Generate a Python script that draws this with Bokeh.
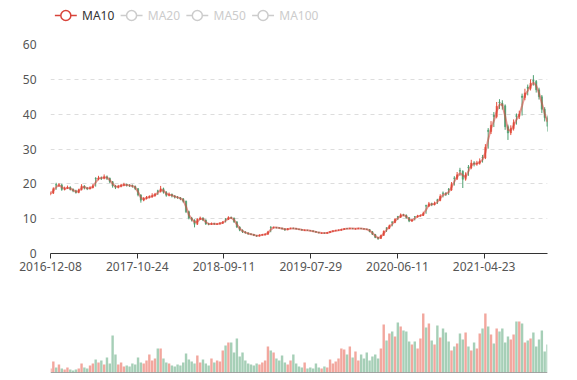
from bokeh.plotting import figure
from bokeh.layouts import column
from bokeh.models import Range1d, FixedTicker, Span, ColumnDataSource
from bokeh.core.properties import value
from bokeh.embed import file_html
from bokeh.resources import INLINE

# ---- data (one candle = 7 trading days) ----
DAYS_PER_CANDLE = 7

close = [
    17.3, 18.6, 19.6, 19.7, 18.4, 18.7, 19.0, 18.4, 18.0, 17.5,
    18.3, 19.4, 18.8, 18.6, 18.9, 19.4, 21.4, 21.7, 21.6, 22.0,
    21.6, 20.6, 19.4, 19.0, 19.3, 19.6, 19.8, 19.6, 19.5, 19.3,
    18.6, 16.8, 15.3, 15.8, 16.1, 16.3, 16.6, 17.0, 17.8, 18.6,
    17.6, 16.7, 17.0, 16.5, 16.2, 16.0, 15.7, 15.0, 12.0, 10.2,
    9.6, 8.4, 9.8, 10.2, 9.6, 8.5, 8.4, 8.6, 8.5, 8.5,
    8.7, 9.0, 9.8, 10.3, 10.2, 9.1, 7.6, 6.7, 6.2, 5.9,
    5.6, 5.5, 5.2, 5.0, 5.3, 5.4, 5.5, 6.2, 7.5, 7.5,
    7.4, 7.3, 7.1, 6.8, 7.1, 7.2, 7.2, 7.0, 6.9, 6.7,
    6.7, 6.6, 6.5, 6.3, 6.1, 5.9, 5.9, 5.8, 6.0, 6.3,
    6.5, 6.6, 6.7, 6.9, 7.1, 7.1, 7.2, 7.1, 7.1, 7.2,
    7.1, 7.0, 6.9, 6.3, 5.5, 4.6, 4.3, 5.2, 6.4, 7.2,
    8.0, 8.9, 9.8, 10.4, 11.1, 11.0, 10.3, 9.3, 9.6, 10.5,
    10.8, 10.9, 11.5, 13.6, 14.3, 14.0, 14.4, 15.2, 16.4, 17.2,
    17.0, 18.2, 19.8, 21.5, 22.6, 23.6, 21.3, 22.6, 24.6, 26.0,
    25.7, 25.9, 26.5, 27.4, 30.5, 35.0, 36.8, 39.3, 42.3, 43.2,
    42.4, 36.4, 34.6, 35.9, 37.6, 39.3, 40.0, 44.8, 46.1, 47.4,
    48.9, 49.4, 47.0, 45.0, 41.4, 39.0, 36.5,
]

open_ = [
    17.0, 17.3, 19.8, 19.6, 19.7, 18.4, 18.7, 19.0, 18.4, 18.0,
    17.5, 18.3, 19.4, 18.8, 18.6, 18.9, 21.6, 21.4, 21.7, 21.6,
    22.0, 21.6, 20.6, 19.4, 19.0, 19.3, 19.6, 19.8, 19.6, 19.5,
    19.3, 18.6, 16.8, 15.3, 15.8, 16.1, 16.3, 16.6, 18.0, 17.8,
    18.6, 17.6, 16.7, 17.0, 16.5, 16.2, 16.0, 15.7, 15.0, 12.0,
    10.2, 9.6, 8.4, 9.8, 10.2, 9.6, 8.5, 8.4, 8.6, 8.4,
    8.5, 8.7, 10.0, 9.8, 10.3, 10.2, 9.1, 7.6, 6.7, 6.2,
    5.9, 5.6, 5.5, 5.2, 5.0, 5.3, 5.4, 5.5, 7.6, 7.4,
    7.5, 7.4, 7.3, 7.1, 6.8, 7.1, 7.3, 7.2, 7.0, 6.9,
    6.6, 6.7, 6.6, 6.5, 6.3, 6.1, 5.8, 5.9, 5.8, 6.0,
    6.3, 6.5, 6.6, 6.7, 6.9, 7.2, 7.1, 7.2, 7.0, 7.1,
    7.2, 7.1, 7.0, 6.9, 6.3, 5.5, 4.6, 4.3, 5.2, 7.4,
    7.2, 9.1, 8.9, 10.6, 10.4, 11.1, 11.0, 10.3, 9.3, 10.6,
    10.5, 10.8, 10.9, 13.8, 13.6, 14.3, 14.0, 15.4, 15.2, 17.4,
    17.2, 18.4, 18.2, 21.7, 21.5, 23.9, 23.6, 21.3, 24.8, 24.6,
    26.0, 25.7, 25.9, 27.6, 27.4, 35.4, 35.0, 39.7, 39.3, 43.5,
    43.2, 42.4, 36.4, 34.6, 35.9, 39.6, 39.3, 45.2, 44.8, 47.8,
    47.4, 49.8, 49.4, 47.0, 45.0, 41.4, 39.0,
]

high = [
    17.8, 19.0, 20.3, 20.2, 20.0, 19.2, 19.5, 19.3, 18.7, 18.3,
    18.6, 19.9, 19.6, 19.1, 19.3, 19.9, 21.9, 22.3, 22.1, 22.7,
    22.4, 21.8, 20.8, 19.7, 19.7, 20.0, 20.3, 20.1, 19.9, 19.8,
    19.5, 18.8, 17.0, 16.2, 16.5, 16.7, 17.3, 17.4, 18.3, 19.4,
    18.9, 17.9, 17.5, 17.2, 16.8, 16.5, 16.2, 15.9, 15.2, 12.3,
    10.5, 9.8, 10.1, 10.6, 10.4, 9.8, 8.8, 8.9, 8.8, 8.7,
    9.0, 9.3, 10.1, 10.7, 10.6, 10.3, 9.2, 7.8, 6.9, 6.4,
    6.1, 5.8, 5.6, 5.3, 5.5, 5.6, 5.8, 6.5, 7.8, 7.7,
    7.6, 7.5, 7.4, 7.2, 7.3, 7.4, 7.4, 7.3, 7.1, 7.0,
    6.9, 6.8, 6.7, 6.6, 6.4, 6.2, 6.0, 6.0, 6.1, 6.4,
    6.6, 6.8, 6.9, 7.1, 7.3, 7.3, 7.4, 7.3, 7.2, 7.4,
    7.3, 7.2, 7.1, 7.0, 6.4, 5.6, 4.7, 5.4, 6.6, 7.5,
    8.3, 9.2, 10.1, 10.8, 11.5, 11.4, 11.2, 10.4, 9.9, 10.7,
    11.1, 11.2, 12.0, 14.0, 14.8, 14.6, 14.9, 15.7, 17.0, 17.8,
    17.6, 18.8, 20.5, 22.2, 23.4, 24.6, 23.9, 23.3, 25.4, 26.9,
    26.5, 26.6, 27.3, 28.3, 31.4, 36.0, 38.0, 40.6, 43.5, 44.3,
    44.0, 42.8, 37.0, 36.8, 38.5, 40.2, 41.0, 45.9, 47.3, 48.5,
    50.0, 51.2, 49.8, 47.6, 45.5, 42.0, 39.6,
]

low = [
    16.7, 17.1, 18.3, 19.1, 18.0, 18.1, 18.5, 18.1, 17.6, 17.2,
    17.3, 18.1, 18.4, 18.2, 18.4, 18.7, 19.2, 21.0, 21.1, 21.3,
    21.1, 20.2, 18.9, 18.5, 18.7, 19.0, 19.3, 19.2, 19.1, 18.9,
    18.2, 16.4, 14.6, 15.0, 15.5, 15.8, 16.0, 16.3, 16.8, 17.5,
    17.2, 16.3, 16.4, 16.1, 15.8, 15.7, 15.3, 14.6, 11.6, 9.8,
    9.2, 7.5, 8.2, 9.6, 9.3, 8.2, 8.1, 8.2, 8.2, 8.2,
    8.3, 8.5, 8.9, 9.6, 9.9, 8.8, 7.3, 6.4, 5.9, 5.7,
    5.4, 5.3, 5.0, 4.8, 4.9, 5.1, 5.2, 5.4, 6.1, 7.2,
    7.2, 7.1, 6.9, 6.5, 6.7, 7.0, 7.0, 6.9, 6.8, 6.6,
    6.5, 6.5, 6.4, 6.2, 6.0, 5.8, 5.7, 5.7, 5.7, 5.9,
    6.2, 6.4, 6.5, 6.6, 6.8, 7.0, 7.0, 7.0, 6.9, 7.0,
    7.0, 6.9, 6.8, 6.1, 5.3, 4.4, 3.9, 4.2, 5.1, 6.2,
    7.0, 7.8, 8.7, 9.6, 10.2, 10.7, 10.0, 9.0, 9.1, 9.5,
    10.3, 10.6, 10.8, 11.4, 13.4, 13.6, 13.8, 14.2, 15.0, 16.1,
    16.5, 16.8, 18.0, 19.5, 21.1, 22.3, 18.8, 20.9, 22.3, 24.2,
    25.0, 25.2, 25.5, 26.1, 27.1, 30.1, 34.3, 36.3, 38.8, 41.5,
    41.3, 35.5, 32.6, 34.0, 35.3, 37.0, 38.6, 39.6, 44.0, 45.4,
    46.8, 48.2, 46.2, 44.2, 40.3, 37.9, 35.0,
]

volume = [
    4, 11, 5, 8, 4, 3, 5, 3, 2, 3,
    4, 9, 5, 4, 7, 9, 13, 10, 12, 8,
    15, 9, 37, 18, 8, 10, 6, 7, 6, 9,
    8, 15, 10, 9, 12, 18, 12, 14, 24, 24,
    14, 10, 9, 7, 6, 8, 7, 10, 19, 13,
    11, 9, 17, 10, 13, 9, 7, 14, 10, 12,
    11, 22, 27, 30, 30, 20, 34, 16, 20, 12,
    9, 8, 7, 9, 8, 10, 12, 26, 22, 20,
    14, 12, 17, 10, 8, 12, 18, 9, 6, 5,
    10, 4, 5, 4, 9, 5, 4, 6, 5, 13,
    9, 11, 14, 24, 23, 18, 26, 15, 21, 12,
    18, 14, 20, 12, 16, 18, 14, 24, 48, 32,
    39, 41, 36, 50, 46, 42, 41, 31, 28, 31,
    24, 34, 59, 45, 49, 32, 28, 47, 35, 44,
    40, 31, 22, 26, 29, 39, 33, 40, 26, 22,
    30, 24, 39, 44, 59, 46, 38, 29, 44, 41,
    44, 30, 36, 33, 38, 51, 51, 49, 30, 32,
    34, 40, 26, 33, 42, 21, 28,
]

tick_days = [0, 215, 430, 645, 860, 1075]
tick_labels = ["2016-12-08", "2017-10-24", "2018-09-11", "2019-07-29", "2020-06-11", "2021-04-23"]
legend_names = ["MA10", "MA20", "MA50", "MA100"]
legend_active = [True, False, False, False]

# ---- derived ----
n = len(close)
xs = [i * DAYS_PER_CANDLE for i in range(n)]
ma10 = [close[0]] + [(close[i - 1] + close[i]) / 2 for i in range(1, n)]

UP = "#e5503d"
DOWN = "#4e9f70"
MA_RED = "#d8433a"
FONT = "Noto Sans"
W = 567

def split(up):
    idx = [i for i in range(n) if (close[i] >= open_[i]) == up]
    return ColumnDataSource(dict(
        x=[xs[i] for i in idx],
        top=[max(open_[i], close[i]) for i in idx],
        bottom=[min(open_[i], close[i]) for i in idx],
        high=[high[i] for i in idx],
        low=[low[i] for i in idx],
        vol=[volume[i] for i in idx],
    ))

src_up = split(True)
src_dn = split(False)

x_range = Range1d(0, (n - 1) * DAYS_PER_CANDLE)

# ---- legend strip (pixel-like coordinates, y downwards) ----
LH = 30
pl = figure(width=W, height=LH, x_range=Range1d(0, W), y_range=Range1d(LH, 0),
            output_backend="svg", toolbar_location=None,
            x_axis_location=None, y_axis_location=None,
            min_border_left=0, min_border_right=0, min_border_top=0, min_border_bottom=0)
pl.outline_line_color = None
pl.grid.visible = False
item_step = 75
leg_x0 = [5 + item_step * k for k in range(len(legend_names))]
leg_col = [MA_RED if a else "#cccccc" for a in legend_active]
leg_txt_col = ["#333333" if a else "#cccccc" for a in legend_active]
pl.segment(x0=leg_x0, y0=[15] * 4, x1=[x + 25 for x in leg_x0], y1=[15] * 4,
           line_color=leg_col, line_width=1.5)
pl.scatter(x=[x + 12.5 for x in leg_x0], y=[15] * 4, marker="circle", size=10,
           fill_color="white", line_color=leg_col, line_width=1.5)
pl.text(x=[x + 31 for x in leg_x0], y=[15] * 4, text=legend_names,
        text_font=value(FONT), text_font_size="12px", text_color=leg_txt_col,
        text_baseline="middle", text_align="left")

# ---- main price chart ----
p1 = figure(width=W, height=253, x_range=x_range, y_range=Range1d(0, 60),
            output_backend="svg", toolbar_location=None,
            min_border_left=50, min_border_right=20, min_border_top=14, min_border_bottom=30)
p1.outline_line_color = None
p1.xgrid.visible = False
p1.ygrid.grid_line_color = "#dddddd"
p1.ygrid.grid_line_dash = "4 4"
p1.ygrid.ticker = FixedTicker(ticks=[10, 20, 30, 40, 50, 60])

p1.yaxis.ticker = FixedTicker(ticks=[0, 10, 20, 30, 40, 50, 60])
p1.yaxis.axis_line_color = None
p1.yaxis.major_tick_line_color = None
p1.yaxis.minor_tick_line_color = None
p1.yaxis.major_label_standoff = 8
p1.yaxis.major_label_text_font = FONT
p1.yaxis.major_label_text_font_size = "12px"
p1.yaxis.major_label_text_color = "#555555"

p1.xaxis.ticker = FixedTicker(ticks=tick_days)
p1.xaxis.major_label_overrides = {d: lab for d, lab in zip(tick_days, tick_labels)}
p1.xaxis.axis_line_color = "#333333"
p1.xaxis.major_tick_line_color = "#333333"
p1.xaxis.major_tick_out = 5
p1.xaxis.major_tick_in = 0
p1.xaxis.minor_tick_line_color = None
p1.xaxis.major_label_standoff = 3
p1.xaxis.major_label_text_font = FONT
p1.xaxis.major_label_text_font_size = "12px"
p1.xaxis.major_label_text_color = "#555555"

for src, col in ((src_up, UP), (src_dn, DOWN)):
    p1.segment(x0="x", y0="low", x1="x", y1="high", source=src, line_color=col, line_width=1)
    p1.vbar(x="x", top="top", bottom="bottom", width=DAYS_PER_CANDLE * 0.45, source=src,
            fill_color=col, line_color=col, line_width=0.5)

p1.line(xs, ma10, line_color=MA_RED, line_width=2, line_alpha=0.55)

# ---- volume chart ----
p2 = figure(width=W, height=93, x_range=x_range, y_range=Range1d(0, 72),
            output_backend="svg", toolbar_location=None,
            x_axis_location=None, y_axis_location=None,
            min_border_left=50, min_border_right=20, min_border_top=17, min_border_bottom=4)
p2.outline_line_color = None
p2.grid.visible = False
for src, col in ((src_up, UP), (src_dn, DOWN)):
    p2.vbar(x="x", top="vol", bottom=0, width=DAYS_PER_CANDLE * 0.85, source=src,
            fill_color=col, fill_alpha=0.5, line_color=None)
p2.add_layout(Span(location=0, dimension="width", line_color="#555555", line_width=1))

layout = column(pl, p1, p2, spacing=0)
open("out.html", "w").write(file_html(layout, INLINE))
